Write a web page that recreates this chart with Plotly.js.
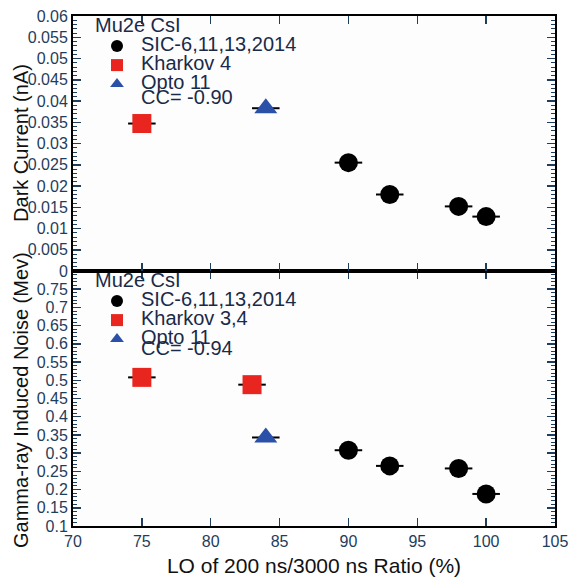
<!DOCTYPE html>
<html>
<head>
<meta charset="utf-8">
<script src="https://cdn.plot.ly/plotly-3.0.1.min.js"></script>
<style>html,body{margin:0;padding:0;background:#fff;}#chart{width:569px;height:577px;}</style>
</head>
<body>
<div id="chart"></div>
<script>
// Top panel: Dark Current (nA)
const sicLO_top = [90, 93, 98, 100];
const sicDark = [0.0255, 0.018, 0.0152, 0.0128];
const kharkovLO_top = [75];
const kharkovDark = [0.0347];
const optoLO_top = [84];
const optoDark = [0.0383];

// Bottom panel: Gamma-ray Induced Noise (MeV)
const sicLO_bot = [90, 93, 98, 100];
const sicNoise = [0.308, 0.265, 0.258, 0.188];
const kharkovLO_bot = [75, 83];
const kharkovNoise = [0.508, 0.488];
const optoLO_bot = [84];
const optoNoise = [0.343];

const xErr = 1.0;

const topTickVals = [0, 0.005, 0.01, 0.015, 0.02, 0.025, 0.03, 0.035, 0.04, 0.045, 0.05, 0.055, 0.06];
const topTickText = ['0', '0.005', '0.01', '0.015', '0.02', '0.025', '0.03', '0.035', '0.04', '0.045', '0.05', '0.055', '0.06'];
const botTickVals = [0.1, 0.15, 0.2, 0.25, 0.3, 0.35, 0.4, 0.45, 0.5, 0.55, 0.6, 0.65, 0.7, 0.75];
const botTickText = ['0.1', '0.15', '0.2', '0.25', '0.3', '0.35', '0.4', '0.45', '0.5', '0.55', '0.6', '0.65', '0.7', '0.75'];
const xTickVals = [70, 75, 80, 85, 90, 95, 100, 105];

const topNames = ['SIC-6,11,13,2014', 'Kharkov 4', 'Opto 11'];
const botNames = ['SIC-6,11,13,2014', 'Kharkov 3,4', 'Opto 11'];
const legendTitle = 'Mu2e CsI';
const ccTop = 'CC= -0.90';
const ccBot = 'CC= -0.94';

const labelColor = '#1f3d5c';
const legendColor = '#1a2a48';
const font = 'Liberation Sans, Arial, sans-serif';

function big(s) { return '<span style="font-size:20px">' + s + '</span>'; }

function errX() {
  return {type: 'constant', value: xErr, color: '#000', thickness: 2, width: 0, visible: true};
}

const traces = [
  {x: sicLO_top, y: sicDark, xaxis: 'x2', yaxis: 'y', mode: 'markers', name: big(topNames[0]), legend: 'legend',
   marker: {symbol: 'circle', size: 19, color: '#000'}, error_x: errX()},
  {x: kharkovLO_top, y: kharkovDark, xaxis: 'x2', yaxis: 'y', mode: 'markers', name: big(topNames[1]), legend: 'legend',
   marker: {symbol: 'square', size: 19, color: '#e8251f'}, error_x: errX()},
  {x: optoLO_top, y: optoDark, xaxis: 'x2', yaxis: 'y', mode: 'markers', name: big(topNames[2]), legend: 'legend',
   marker: {symbol: 'triangle-up', size: 20, color: '#2a50a8'}, error_x: errX()},
  {x: sicLO_bot, y: sicNoise, xaxis: 'x', yaxis: 'y2', mode: 'markers', name: big(botNames[0]), legend: 'legend2',
   marker: {symbol: 'circle', size: 19, color: '#000'}, error_x: errX()},
  {x: kharkovLO_bot, y: kharkovNoise, xaxis: 'x', yaxis: 'y2', mode: 'markers', name: big(botNames[1]), legend: 'legend2',
   marker: {symbol: 'square', size: 19, color: '#e8251f'}, error_x: errX()},
  {x: optoLO_bot, y: optoNoise, xaxis: 'x', yaxis: 'y2', mode: 'markers', name: big(botNames[2]), legend: 'legend2',
   marker: {symbol: 'triangle-up', size: 20, color: '#2a50a8'}, error_x: errX()}
];

const axisCommon = {
  showline: true, linecolor: '#000', linewidth: 2, mirror: 'ticks',
  ticks: 'inside', ticklen: 8, tickwidth: 1.5, tickcolor: '#1f3d5c',
  showgrid: false, zeroline: false,
  tickfont: {family: font, size: 16, color: labelColor}
};

const legendCommon = {
  font: {family: font, size: 12, color: legendColor},
  bgcolor: 'rgba(0,0,0,0)', borderwidth: 0,
  xref: 'paper', yref: 'paper', xanchor: 'left', yanchor: 'top',
  itemsizing: 'constant', tracegroupgap: 0, itemwidth: 38
};

const layout = {
  width: 569, height: 577,
  margin: {l: 73, r: 14, t: 16, b: 51},
  paper_bgcolor: '#ffffff',
  plot_bgcolor: '#fdfdfe',
  showlegend: true,
  xaxis: Object.assign({}, axisCommon, {
    domain: [0, 1], anchor: 'y2', range: [70, 105], tickmode: 'array', tickvals: xTickVals,
    title: {text: 'LO of 200 ns/3000 ns Ratio (%)', font: {family: font, size: 21, color: '#111'}, standoff: 10}
  }),
  xaxis2: Object.assign({}, axisCommon, {
    domain: [0, 1], anchor: 'y', matches: 'x', range: [70, 105], tickmode: 'array', tickvals: xTickVals,
    showticklabels: false
  }),
  yaxis: Object.assign({}, axisCommon, {
    domain: [0.5, 1], anchor: 'x2', range: [0, 0.06], tickmode: 'array', tickvals: topTickVals, ticktext: topTickText,
    minor: {tickmode: 'linear', tick0: 0, dtick: 0.001, ticks: 'inside', ticklen: 4, tickcolor: '#1f3d5c', tickwidth: 1}
  }),
  yaxis2: Object.assign({}, axisCommon, {
    domain: [0, 0.5], anchor: 'x', range: [0.1, 0.8], tickmode: 'array', tickvals: botTickVals, ticktext: botTickText,
    minor: {tickmode: 'linear', tick0: 0.1, dtick: 0.01, ticks: 'inside', ticklen: 4, tickcolor: '#1f3d5c', tickwidth: 1}
  }),
  legend: Object.assign({}, legendCommon, {
    x: 0.0415, y: 1.0,
    title: {text: big(legendTitle), font: {family: font, size: 12, color: legendColor}}
  }),
  legend2: Object.assign({}, legendCommon, {
    x: 0.0415, y: 0.5,
    title: {text: big(legendTitle), font: {family: font, size: 12, color: legendColor}}
  }),
  annotations: [
    {text: 'Dark Current (nA)', textangle: -90, xref: 'paper', yref: 'paper', x: -0.108, y: 0.751,
     xanchor: 'center', yanchor: 'middle', showarrow: false, font: {family: font, size: 20, color: '#111'}},
    {text: 'Gamma-ray Induced Noise (Mev)', textangle: -90, xref: 'paper', yref: 'paper', x: -0.108, y: 0.247,
     xanchor: 'center', yanchor: 'middle', showarrow: false, font: {family: font, size: 20, color: '#111'}},
    {text: ccTop, xref: 'paper', yref: 'paper', x: 0.137, y: 0.842,
     xanchor: 'left', yanchor: 'middle', showarrow: false, font: {family: font, size: 20, color: legendColor}},
    {text: ccBot, xref: 'paper', yref: 'paper', x: 0.137, y: 0.349,
     xanchor: 'left', yanchor: 'middle', showarrow: false, font: {family: font, size: 20, color: legendColor}}
  ]
};

Plotly.newPlot('chart', traces, layout, {displayModeBar: false, staticPlot: true});
</script>
</body>
</html>
